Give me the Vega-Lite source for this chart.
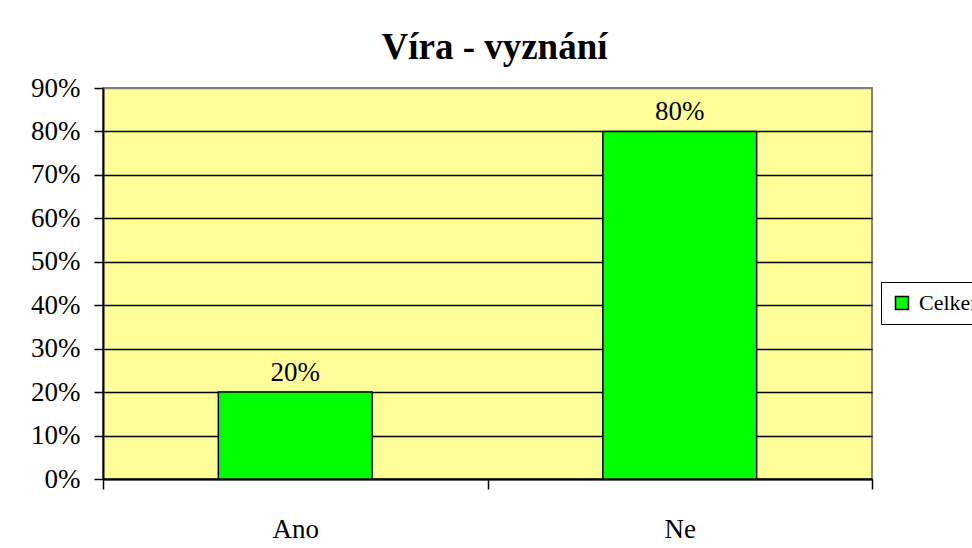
{
  "$schema": "https://vega.github.io/schema/vega-lite/v6.json",
  "width": 769,
  "height": 391,
  "autosize": {"type": "none"},
  "padding": {"left": 103, "top": 88, "right": 100, "bottom": 69},
  "background": "white",
  "title": {
    "text": "Víra - vyznání",
    "font": "Liberation Serif",
    "fontSize": 37,
    "fontWeight": "bold",
    "color": "black",
    "anchor": "middle",
    "dx": 7,
    "offset": 7
  },
  "data": {
    "values": [
      {"answer": "Ano", "value": 0.2, "series": "Celkem"},
      {"answer": "Ne", "value": 0.8, "series": "Celkem"}
    ]
  },
  "encoding": {
    "x": {
      "field": "answer",
      "type": "nominal",
      "sort": null,
      "scale": {"paddingInner": 0, "paddingOuter": 0},
      "axis": {
        "title": null,
        "labelAngle": 0,
        "labelFont": "Liberation Serif",
        "labelFontSize": 27,
        "labelColor": "black",
        "labelBaseline": "alphabetic",
        "labelPadding": 48,
        "tickBand": "extent",
        "tickSize": 10,
        "tickColor": "black",
        "tickWidth": 1.5,
        "domainColor": "black",
        "domainWidth": 2,
        "grid": false
      }
    },
    "y": {
      "field": "value",
      "type": "quantitative",
      "scale": {"domain": [0, 0.9], "nice": false},
      "axis": {
        "title": null,
        "values": [0, 0.1, 0.2, 0.3, 0.4, 0.5, 0.6, 0.7, 0.8, 0.9],
        "format": ".0%",
        "labelFont": "Liberation Serif",
        "labelFontSize": 27,
        "labelColor": "black",
        "labelPadding": 14,
        "tickSize": 9,
        "tickColor": "black",
        "tickWidth": 1.5,
        "domainColor": "black",
        "domainWidth": 2,
        "grid": true,
        "gridColor": {"condition": {"test": "datum.value >= 0.9", "value": "#808080"}, "value": "black"},
        "gridWidth": 1.5,
        "gridOpacity": 1
      }
    }
  },
  "layer": [
    {
      "mark": {"type": "bar", "width": {"band": 0.4}, "stroke": "black", "strokeWidth": 1.5},
      "encoding": {
        "fill": {
          "field": "series",
          "type": "nominal",
          "scale": {"range": ["#00FF00"]},
          "legend": {
            "title": null,
            "orient": "none",
            "legendX": 778,
            "legendY": 194,
            "strokeColor": "black",
            "padding": 10,
            "symbolType": "square",
            "symbolSize": 169,
            "symbolStrokeColor": "black",
            "symbolStrokeWidth": 1.5,
            "symbolOpacity": 1,
            "labelFont": "Liberation Serif",
            "labelFontSize": 22,
            "labelColor": "black",
            "labelOffset": 6
          }
        }
      }
    },
    {
      "mark": {"type": "text", "dy": -11, "baseline": "alphabetic", "font": "Liberation Serif", "fontSize": 27, "color": "black"},
      "encoding": {
        "text": {"field": "value", "type": "quantitative", "format": ".0%"}
      }
    }
  ],
  "config": {
    "view": {"fill": "#FFFF99", "stroke": "#808080", "strokeWidth": 2}
  }
}
